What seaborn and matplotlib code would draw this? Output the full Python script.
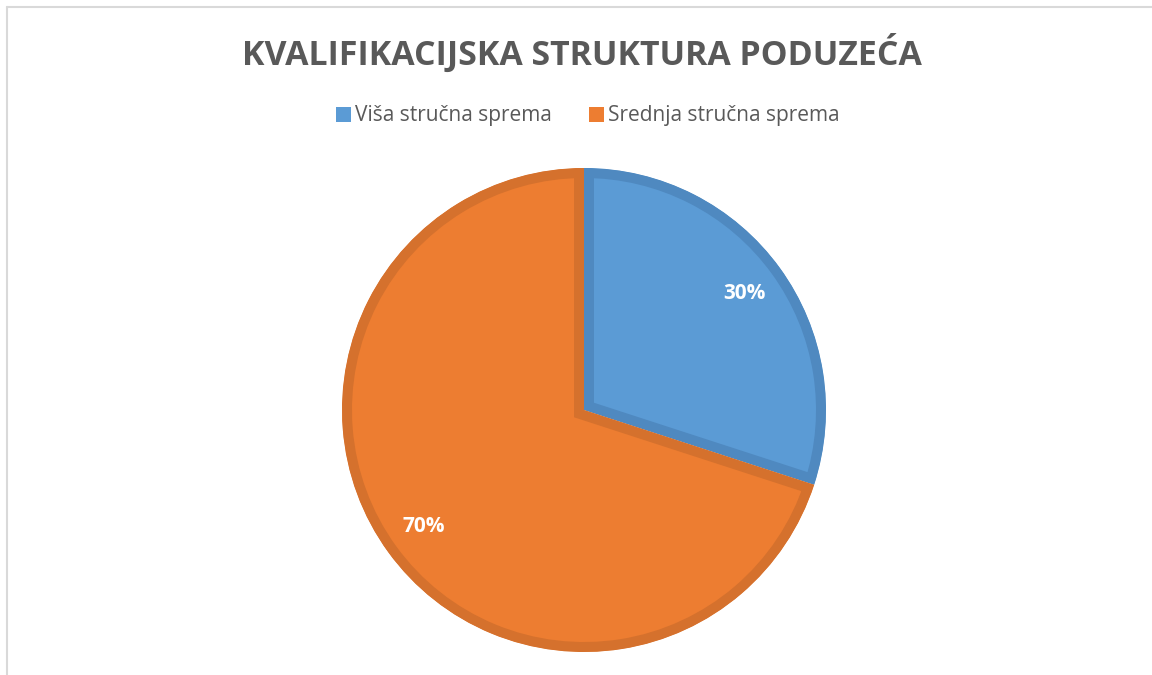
import matplotlib.pyplot as plt
import seaborn as sns
from matplotlib.lines import Line2D
from matplotlib.patches import Patch

sns.set_theme(style="white")
plt.rcParams['font.family'] = ['Open Sans', 'DejaVu Sans']

# podaci
kategorije = ['Viša stručna sprema', 'Srednja stručna sprema']
udio = [30, 70]
boje = ['#5B9BD5', '#ED7D31']
rubovi = ['#4F89C0', '#D5712D']

fig = plt.figure(figsize=(11.52, 6.75), dpi=100)
W, H = 1152, 675
cx, cy, r = 584, 410, 242
ax = fig.add_axes([(cx - r) / W, 1 - (cy + r) / H, 2 * r / W, 2 * r / H])

wedges, texts, autotexts = ax.pie(
    udio, colors=boje, startangle=90, counterclock=False, radius=1,
    autopct='%1.0f%%', pctdistance=0.82,
    textprops=dict(color='white', fontsize=15, fontweight='bold'),
    wedgeprops=dict(linewidth=14.4),
)
# rub unutar isječka
for w, ec in zip(wedges, rubovi):
    w.set_edgecolor(ec)
    w.set_clip_on(True)
    w.set_clip_path(w)
ax.set_xlim(-1, 1)
ax.set_ylim(-1, 1)
ax.axis('off')

fig.text(582 / W, 1 - 53 / H, 'KVALIFIKACIJSKA STRUKTURA PODUZEĆA',
         ha='center', va='center', fontsize=24.4, fontweight='bold', color='#595959')

handles = [Patch(facecolor=c, edgecolor='none') for c in boje]
fig.legend(handles, kategorije, loc='center', bbox_to_anchor=(588 / W, 1 - 116 / H),
           ncol=2, frameon=False, fontsize=15, labelcolor='#595959',
           handlelength=0.7, handleheight=0.7, handletextpad=0.2, columnspacing=1.8)

# okvir grafikona
fig.add_artist(Line2D([7 / W, 7 / W], [0, 1 - 7 / H], color='#d9d9d9', lw=1.5))
fig.add_artist(Line2D([7 / W, 1], [1 - 7 / H, 1 - 7 / H], color='#d9d9d9', lw=1.5))

fig.savefig('out.png', dpi=100, facecolor='white')
